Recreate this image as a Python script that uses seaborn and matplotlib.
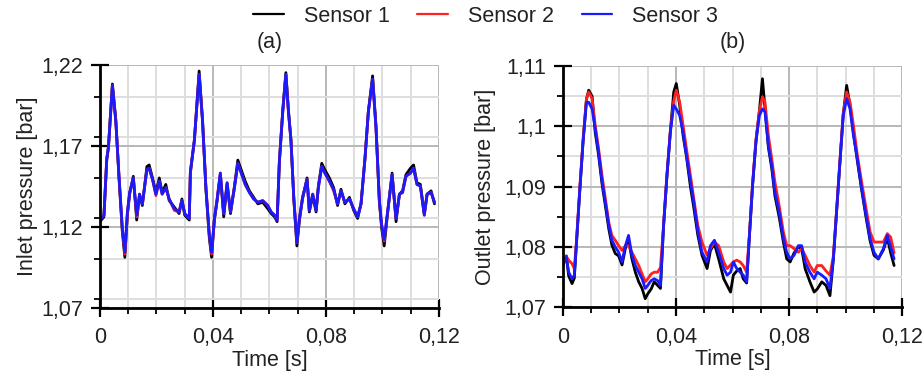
import numpy as np
import pandas as pd
import matplotlib
matplotlib.use("Agg")
import matplotlib.pyplot as plt
from matplotlib.ticker import MultipleLocator, FuncFormatter
from matplotlib.lines import Line2D
import seaborn as sns

# ---------------- data ----------------
sensor_names = ["Sensor 1", "Sensor 2", "Sensor 3"]
sensor_colors = ["#000000", "#ff2020", "#1a1aff"]

# inlet pressure (bar)
time_in = [0.0000, 0.0014, 0.0024, 0.0030, 0.0044, 0.0056, 0.0067, 0.0079, 0.0088, 0.0097,
           0.0105, 0.0118, 0.0130, 0.0140, 0.0150, 0.0166, 0.0174, 0.0186, 0.0198, 0.0210,
           0.0220, 0.0233, 0.0245, 0.0263, 0.0280, 0.0290, 0.0300, 0.0316, 0.0320, 0.0334,
           0.0351, 0.0363, 0.0375, 0.0387, 0.0395, 0.0405, 0.0414, 0.0426, 0.0438, 0.0450,
           0.0462, 0.0476, 0.0488, 0.0502, 0.0514, 0.0529, 0.0544, 0.0559, 0.0576, 0.0594,
           0.0606, 0.0618, 0.0627, 0.0635, 0.0647, 0.0658, 0.0667, 0.0676, 0.0686, 0.0697,
           0.0706, 0.0717, 0.0733, 0.0741, 0.0753, 0.0765, 0.0773, 0.0785, 0.0796, 0.0812,
           0.0827, 0.0841, 0.0853, 0.0867, 0.0883, 0.0898, 0.0912, 0.0924, 0.0938, 0.0950,
           0.0965, 0.0977, 0.0989, 0.0997, 0.1006, 0.1018, 0.1034, 0.1048, 0.1060, 0.1071,
           0.1083, 0.1099, 0.1110, 0.1122, 0.1134, 0.1148, 0.1158, 0.1172, 0.1184]

inlet_s1 = [1.123, 1.126, 1.161, 1.169, 1.208, 1.186, 1.151, 1.117, 1.101, 1.127,
            1.140, 1.151, 1.124, 1.139, 1.133, 1.157, 1.158, 1.150, 1.141, 1.150,
            1.141, 1.146, 1.136, 1.132, 1.128, 1.137, 1.127, 1.124, 1.153, 1.173,
            1.216, 1.186, 1.143, 1.113, 1.101, 1.124, 1.135, 1.152, 1.126, 1.146,
            1.128, 1.145, 1.161, 1.154, 1.148, 1.142, 1.138, 1.134, 1.135, 1.131,
            1.128, 1.126, 1.123, 1.160, 1.192, 1.215, 1.192, 1.174, 1.137, 1.108,
            1.124, 1.137, 1.150, 1.129, 1.139, 1.129, 1.145, 1.159, 1.155, 1.150,
            1.144, 1.133, 1.143, 1.134, 1.138, 1.130, 1.125, 1.134, 1.162, 1.191,
            1.213, 1.182, 1.135, 1.119, 1.108, 1.128, 1.153, 1.123, 1.140, 1.142,
            1.152, 1.156, 1.158, 1.147, 1.146, 1.128, 1.140, 1.142, 1.134]

inlet_s2 = [1.124, 1.127, 1.162, 1.169, 1.207, 1.185, 1.152, 1.119, 1.103, 1.128,
            1.141, 1.150, 1.126, 1.140, 1.134, 1.155, 1.156, 1.149, 1.139, 1.148,
            1.140, 1.144, 1.137, 1.130, 1.129, 1.136, 1.128, 1.125, 1.154, 1.173,
            1.214, 1.185, 1.144, 1.115, 1.103, 1.125, 1.136, 1.153, 1.128, 1.147,
            1.129, 1.144, 1.159, 1.152, 1.146, 1.141, 1.137, 1.135, 1.136, 1.133,
            1.129, 1.127, 1.124, 1.160, 1.191, 1.214, 1.191, 1.173, 1.138, 1.110,
            1.125, 1.138, 1.149, 1.130, 1.140, 1.130, 1.144, 1.157, 1.153, 1.148,
            1.142, 1.134, 1.142, 1.135, 1.137, 1.131, 1.126, 1.134, 1.162, 1.191,
            1.211, 1.181, 1.136, 1.121, 1.111, 1.129, 1.152, 1.125, 1.140, 1.141,
            1.151, 1.153, 1.156, 1.146, 1.145, 1.127, 1.140, 1.141, 1.135]

inlet_s3 = [1.124, 1.127, 1.162, 1.169, 1.207, 1.185, 1.152, 1.119, 1.104, 1.129,
            1.141, 1.150, 1.127, 1.140, 1.134, 1.155, 1.156, 1.149, 1.140, 1.148,
            1.140, 1.144, 1.137, 1.131, 1.129, 1.136, 1.128, 1.125, 1.154, 1.173,
            1.214, 1.185, 1.144, 1.115, 1.104, 1.125, 1.136, 1.153, 1.128, 1.147,
            1.129, 1.144, 1.159, 1.152, 1.146, 1.141, 1.137, 1.135, 1.136, 1.133,
            1.129, 1.127, 1.124, 1.160, 1.191, 1.214, 1.191, 1.173, 1.138, 1.110,
            1.125, 1.138, 1.149, 1.130, 1.140, 1.130, 1.144, 1.157, 1.153, 1.148,
            1.143, 1.134, 1.142, 1.135, 1.137, 1.131, 1.126, 1.134, 1.162, 1.191,
            1.211, 1.181, 1.136, 1.121, 1.112, 1.129, 1.152, 1.125, 1.140, 1.141,
            1.151, 1.153, 1.156, 1.146, 1.145, 1.127, 1.140, 1.141, 1.135]

# outlet pressure (bar)
time_out = [0.0000, 0.0012, 0.0020, 0.0032, 0.0040, 0.0047, 0.0059, 0.0071, 0.0083, 0.0091,
            0.0103, 0.0114, 0.0126, 0.0138, 0.0150, 0.0162, 0.0173, 0.0185, 0.0197, 0.0209,
            0.0221, 0.0232, 0.0244, 0.0256, 0.0268, 0.0280, 0.0291, 0.0300, 0.0312, 0.0323,
            0.0335, 0.0345, 0.0356, 0.0368, 0.0380, 0.0392, 0.0401, 0.0413, 0.0425, 0.0437,
            0.0451, 0.0463, 0.0477, 0.0492, 0.0510, 0.0522, 0.0536, 0.0551, 0.0569, 0.0581,
            0.0593, 0.0603, 0.0615, 0.0627, 0.0638, 0.0650, 0.0660, 0.0671, 0.0683, 0.0695,
            0.0706, 0.0715, 0.0727, 0.0739, 0.0750, 0.0765, 0.0780, 0.0792, 0.0804, 0.0818,
            0.0833, 0.0845, 0.0857, 0.0874, 0.0889, 0.0900, 0.0916, 0.0931, 0.0945, 0.0957,
            0.0969, 0.0981, 0.0992, 0.1004, 0.1016, 0.1028, 0.1042, 0.1057, 0.1073, 0.1087,
            0.1101, 0.1116, 0.1134, 0.1148, 0.1160, 0.1172]

outlet_s1 = [1.0772, 1.0785, 1.0752, 1.0739, 1.0748, 1.0800, 1.0890, 1.0975, 1.1045, 1.1060,
             1.1050, 1.0990, 1.0952, 1.0905, 1.0868, 1.0830, 1.0803, 1.0789, 1.0785, 1.0770,
             1.0798, 1.0812, 1.0780, 1.0758, 1.0742, 1.0731, 1.0714, 1.0722, 1.0730, 1.0742,
             1.0736, 1.0731, 1.0834, 1.0918, 1.0992, 1.1057, 1.1071, 1.1035, 1.0985, 1.0950,
             1.0900, 1.0865, 1.0820, 1.0786, 1.0764, 1.0794, 1.0805, 1.0780, 1.0747, 1.0736,
             1.0725, 1.0753, 1.0760, 1.0764, 1.0747, 1.0740, 1.0819, 1.0902, 1.0975, 1.1025,
             1.1079, 1.1030, 1.0965, 1.0930, 1.0885, 1.0850, 1.0808, 1.0780, 1.0775, 1.0790,
             1.0800, 1.0797, 1.0764, 1.0742, 1.0725, 1.0730, 1.0742, 1.0736, 1.0719, 1.0780,
             1.0862, 1.0945, 1.1020, 1.1068, 1.1035, 1.0990, 1.0942, 1.0895, 1.0848, 1.0810,
             1.0786, 1.0780, 1.0795, 1.0815, 1.0790, 1.0769]

outlet_s2 = [1.0780, 1.0784, 1.0778, 1.0772, 1.0764, 1.0805, 1.0895, 1.0978, 1.1045, 1.1057,
             1.1046, 1.1002, 1.0963, 1.0919, 1.0880, 1.0841, 1.0819, 1.0811, 1.0802, 1.0794,
             1.0802, 1.0802, 1.0791, 1.0780, 1.0769, 1.0755, 1.0742, 1.0747, 1.0755, 1.0758,
             1.0758, 1.0766, 1.0836, 1.0920, 1.0992, 1.1042, 1.1060, 1.1040, 1.1002, 1.0963,
             1.0919, 1.0880, 1.0836, 1.0808, 1.0786, 1.0797, 1.0808, 1.0802, 1.0775, 1.0764,
             1.0770, 1.0775, 1.0778, 1.0775, 1.0769, 1.0758, 1.0822, 1.0905, 1.0978, 1.1025,
             1.1049, 1.1040, 1.0985, 1.0946, 1.0908, 1.0869, 1.0825, 1.0802, 1.0802, 1.0797,
             1.0791, 1.0797, 1.0786, 1.0769, 1.0758, 1.0769, 1.0769, 1.0760, 1.0753, 1.0785,
             1.0865, 1.0948, 1.1022, 1.1057, 1.1040, 1.1002, 1.0952, 1.0908, 1.0863, 1.0825,
             1.0808, 1.0808, 1.0808, 1.0822, 1.0816, 1.0790]

outlet_s3 = [1.0769, 1.0783, 1.0758, 1.0747, 1.0753, 1.0802, 1.0891, 1.0974, 1.1040, 1.1040,
             1.1029, 1.0996, 1.0957, 1.0910, 1.0874, 1.0836, 1.0811, 1.0800, 1.0791, 1.0775,
             1.0802, 1.0819, 1.0786, 1.0769, 1.0758, 1.0747, 1.0731, 1.0736, 1.0744, 1.0747,
             1.0744, 1.0736, 1.0836, 1.0919, 1.0990, 1.1035, 1.1029, 1.1018, 1.0990, 1.0952,
             1.0908, 1.0874, 1.0827, 1.0791, 1.0775, 1.0802, 1.0811, 1.0791, 1.0764, 1.0753,
             1.0758, 1.0775, 1.0764, 1.0758, 1.0753, 1.0742, 1.0819, 1.0902, 1.0974, 1.1018,
             1.1029, 1.1024, 1.0968, 1.0935, 1.0891, 1.0858, 1.0814, 1.0791, 1.0780, 1.0786,
             1.0802, 1.0802, 1.0775, 1.0758, 1.0747, 1.0758, 1.0753, 1.0747, 1.0731, 1.0780,
             1.0863, 1.0946, 1.1018, 1.1046, 1.1029, 1.0985, 1.0946, 1.0897, 1.0852, 1.0814,
             1.0791, 1.0780, 1.0797, 1.0819, 1.0800, 1.0780]

x_ticks = [0, 0.04, 0.08, 0.12]
inlet_ticks = [1.07, 1.12, 1.17, 1.22]
outlet_ticks = [1.07, 1.08, 1.09, 1.10, 1.11]


def long_frame(time, series):
    parts = []
    for name, vals in zip(sensor_names, series):
        parts.append(pd.DataFrame({"Time": time, "Pressure": vals, "Sensor": name}))
    return pd.concat(parts, ignore_index=True)


df_in = long_frame(time_in, [inlet_s1, inlet_s2, inlet_s3])
df_out = long_frame(time_out, [outlet_s1, outlet_s2, outlet_s3])

# ---------------- style ----------------
sns.set_theme(style="white")
plt.rcParams["font.family"] = ["Liberation Sans", "DejaVu Sans"]
plt.rcParams["text.color"] = "#222222"

FS = 15.5
palette = dict(zip(sensor_names, sensor_colors))


def comma_fmt(v, pos):
    s = f"{round(v, 4):g}"
    return s.replace(".", ",")


fig = plt.figure(figsize=(9.24, 3.82), dpi=100)
ax_a = fig.add_axes([0.1082, 0.195, 0.3669, 0.636])
ax_b = fig.add_axes([0.6093, 0.196, 0.3669, 0.631])


def style_axes(ax, yticks, yminor, ylabel, ylabelpad):
    ax.set_xlim(0, 0.12)
    ax.set_ylim(yticks[0], yticks[-1])
    ax.set_xticks(x_ticks)
    ax.xaxis.set_minor_locator(MultipleLocator(0.01))
    ax.set_yticks(yticks)
    ax.yaxis.set_minor_locator(MultipleLocator(yminor))
    ax.xaxis.set_major_formatter(FuncFormatter(comma_fmt))
    ax.yaxis.set_major_formatter(FuncFormatter(comma_fmt))
    ax.grid(which="minor", color="#dedede", linewidth=1.4, zorder=0)
    ax.grid(which="major", color="#b8b8b8", linewidth=1.4, zorder=0)
    ax.set_axisbelow(True)
    for side in ("top", "right"):
        ax.spines[side].set_visible(False)
    for side in ("left", "bottom"):
        ax.spines[side].set_color("black")
        ax.spines[side].set_linewidth(2.0)
        ax.spines[side].set_zorder(5)
    ax.tick_params(which="major", direction="inout", length=12.5, width=1.6,
                   color="black", labelsize=FS, labelcolor="#222222",
                   bottom=True, left=True)
    ax.tick_params(axis="x", which="major", pad=8)
    ax.tick_params(axis="y", which="major", pad=6)
    ax.tick_params(which="minor", direction="out", length=4, width=1.3,
                   color="black", bottom=True, left=True)
    ax.set_xlabel("Time [s]", fontsize=FS, labelpad=1, color="#222222")
    ax.set_ylabel(ylabel, fontsize=FS, labelpad=ylabelpad, color="#222222")


for ax, df in ((ax_a, df_in), (ax_b, df_out)):
    sns.lineplot(data=df, x="Time", y="Pressure", hue="Sensor",
                 palette=palette, hue_order=sensor_names, linewidth=2.0,
                 estimator=None, sort=False, legend=False, ax=ax, zorder=3)

style_axes(ax_a, inlet_ticks, 0.025, "Inlet pressure [bar]", 2)
style_axes(ax_b, outlet_ticks, 0.005, "Outlet pressure [bar]", 6)

fig.text(0.2917, 0.889, "(a)", ha="center", va="center", fontsize=FS)
fig.text(0.7928, 0.889, "(b)", ha="center", va="center", fontsize=FS)

handles = [Line2D([0], [0], color=c, lw=1.6) for c in sensor_colors]
fig.legend(handles, sensor_names, loc="center", bbox_to_anchor=(0.5255, 0.958),
           ncol=3, frameon=False, fontsize=FS, handlelength=1.4,
           handletextpad=0.93, columnspacing=1.3)

fig.savefig("out.png", dpi=100)
